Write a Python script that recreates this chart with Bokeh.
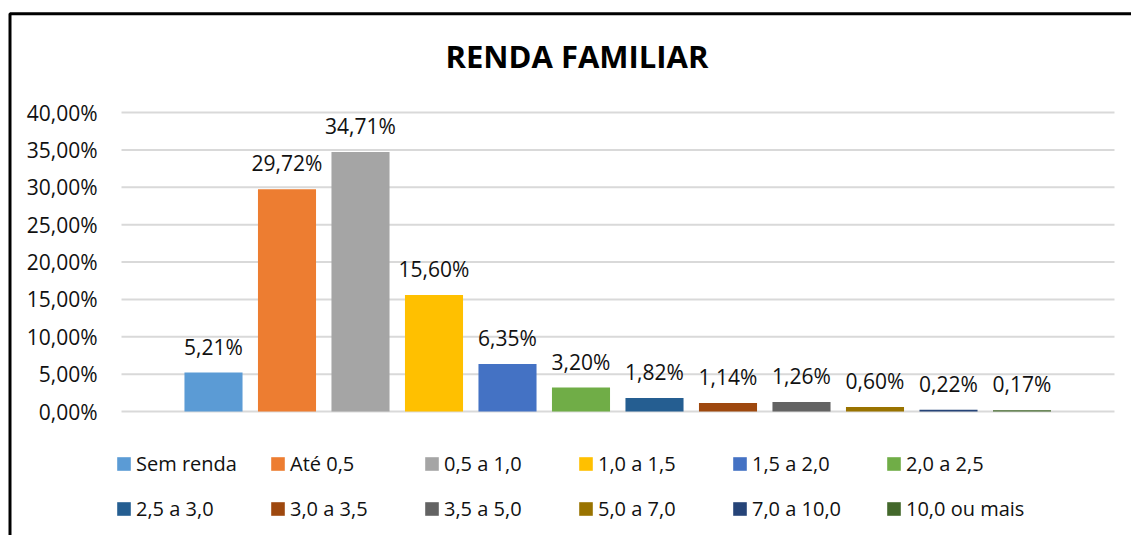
from bokeh.plotting import figure
from bokeh.models import (ColumnDataSource, Range1d, BoxAnnotation, Legend, LegendItem, Label)
from bokeh.core.properties import value
from bokeh.embed import file_html
from bokeh.resources import INLINE

categories = ["Sem renda", "Até 0,5", "0,5 a 1,0", "1,0 a 1,5", "1,5 a 2,0", "2,0 a 2,5",
              "2,5 a 3,0", "3,0 a 3,5", "3,5 a 5,0", "5,0 a 7,0", "7,0 a 10,0", "10,0 ou mais"]
values = [5.21, 29.72, 34.71, 15.60, 6.35, 3.20, 1.82, 1.14, 1.26, 0.60, 0.22, 0.17]
colors = ["#5B9BD5", "#ED7D31", "#A5A5A5", "#FFC000", "#4472C4", "#70AD47",
          "#255E91", "#9E480E", "#636363", "#997300", "#264478", "#43682B"]
y_ticks = [0.0, 0.05, 0.10, 0.15, 0.20, 0.25, 0.30, 0.35, 0.40]
y_tick_labels = ["0,00%", "5,00%", "10,00%", "15,00%", "20,00%", "25,00%", "30,00%", "35,00%", "40,00%"]
title_text = "RENDA FAMILIAR"

FONT = "Open Sans"
W, H = 1131, 535
# pixel layout of the chart (page pixels)
X0_PX, STEP_PX = 213.0, 73.5       # first bar centre, bar pitch
Y0_PX, PX_PER_UNIT = 411.0, 747.5  # zero line, pixels per 1.0 (100 %)

def dx(px):
    return (px - X0_PX) / STEP_PX

def dy(py):
    return (Y0_PX - py) / PX_PER_UNIT

src = ColumnDataSource(dict(
    x=list(range(len(categories))),
    top=[v / 100 for v in values],
    cat=categories,
    color=colors,
    lbl=[f"{v:.2f}%".replace(".", ",") for v in values],
))

p = figure(width=W, height=H, output_backend="svg", toolbar_location=None,
           x_range=Range1d(dx(0), dx(W)), y_range=Range1d(dy(H), dy(0)),
           x_axis_location=None, y_axis_location=None, min_border=0)
p.outline_line_color = None
p.grid.visible = False

# gridlines of the plot area and their labels
grid_src = ColumnDataSource(dict(y=y_ticks, lab=y_tick_labels,
                                 x0=[dx(121)] * len(y_ticks), x1=[dx(1114)] * len(y_ticks),
                                 xl=[dx(97)] * len(y_ticks)))
p.segment(x0="x0", x1="x1", y0="y", y1="y", source=grid_src, line_color="#D9D9D9", line_width=2)
p.text(x="xl", y="y", text="lab", source=grid_src, text_align="right", text_baseline="middle",
       text_font=value(FONT), text_font_size="21px", text_color="#111111")

bars = p.vbar(x="x", top="top", width=0.79, fill_color="color", line_color=None, source=src)

p.text(x="x", y="top", text="lbl", source=src, text_align="center", text_baseline="middle",
       y_offset=-26, text_font=value(FONT), text_font_size="21px", text_color="#111111")

p.add_layout(Label(x=dx(576.5), y=dy(55.5), text=title_text, text_align="center",
                   text_baseline="middle", text_font=FONT, text_font_size="31px",
                   text_font_style="bold", text_color="black"))

legend = Legend(items=[LegendItem(label=c, renderers=[bars], index=i) for i, c in enumerate(categories)],
                ncols=6, orientation="horizontal", location=(115, 13.5),
                glyph_width=17, glyph_height=17, label_standoff=4, spacing=18,
                label_width=115, label_height=17, padding=0, margin=0,
                border_line_color=None, background_fill_alpha=0,
                label_text_font=FONT, label_text_font_size="20px", label_text_color="#111111")
p.add_layout(legend)

p.add_layout(BoxAnnotation(left=dx(9.5), right=dx(W + 50), top=dy(13.3), bottom=dy(H + 50),
                           fill_alpha=0, line_color="black", line_alpha=1.0, line_width=3))

open("out.html", "w").write(file_html(p, INLINE))
